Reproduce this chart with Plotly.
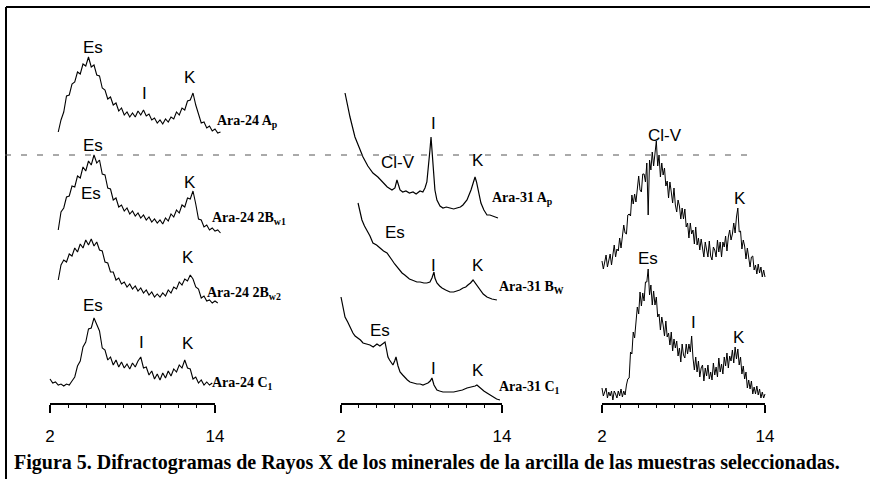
import plotly.graph_objects as go

W, H = 870, 479
STEP = 0.2   # 2-theta step of the digitised Ara-24 scans
STEP3 = 0.1  # 2-theta step of the digitised Ara-56 scans

# ---------------- Data (2θ in degrees, intensity in arbitrary units) ----------------
# Panel 1 : Ara-24
A24_AP_START = 2.6
A24_AP = [3, 15, 23, 39, 40, 51, 53, 63, 61, 71,
          69, 78, 68, 70, 60, 59, 47, 45, 36, 38,
          30, 32, 24, 27, 20, 23, 18, 22, 18, 24,
          20, 25, 19, 21, 15, 17, 12, 15, 11, 16,
          13, 18, 16, 23, 20, 27, 25, 34, 35, 42,
          30, 22, 12, 13, 7, 9, 4, 6, 2, 3]
A24_2BW1_START = 2.6
A24_2BW1 = [5, 23, 27, 38, 39, 49, 48, 59, 57, 68,
            64, 74, 70, 80, 72, 75, 61, 60, 47, 46,
            35, 37, 28, 30, 24, 27, 21, 24, 19, 22,
            17, 20, 15, 18, 13, 16, 12, 15, 11, 17,
            14, 21, 18, 25, 22, 30, 28, 37, 36, 44,
            31, 16, 15, 8, 10, 5, 7, 4, 5, 2]
A24_2BW2_START = 2.6
A24_2BW2 = [25, 40, 45, 43, 51, 49, 57, 53, 61, 57,
            65, 60, 66, 59, 63, 55, 54, 43, 42, 33,
            33, 25, 27, 21, 23, 18, 21, 16, 19, 14,
            17, 12, 15, 10, 13, 8, 11, 8, 12, 9,
            15, 12, 18, 16, 23, 20, 26, 24, 30, 26,
            18, 16, 7, 9, 4, 5, 2, 4, 2]
A24_C1_START = 2.0
A24_C1 = [9, 5, 6, 3, 4, 2, 4, 3, 7, 11,
          22, 27, 41, 46, 59, 60, 70, 63, 57, 40,
          38, 28, 31, 23, 28, 21, 26, 20, 24, 19,
          25, 21, 27, 31, 20, 21, 13, 17, 9, 14,
          8, 15, 10, 17, 12, 19, 16, 23, 20, 28,
          20, 19, 9, 11, 5, 8, 3, 6, 3, 5]

A31_AP_TT = [2.30, 2.67, 3.04, 3.35, 3.64, 4.0, 4.38, 4.75, 5.13, 5.45,
             5.80, 6.02, 6.17, 6.30, 6.40, 6.6, 6.84, 7.1, 7.37, 7.6,
             7.89, 8.1, 8.26, 8.40, 8.48, 8.63, 8.71, 8.78, 8.86, 9.0,
             9.15, 9.38, 9.60, 9.85, 10.12, 10.4, 10.64, 10.9, 11.09, 11.39,
             11.69, 11.85, 11.99, 12.1, 12.21, 12.43, 12.65, 12.88, 13.1, 13.33,
             13.70]
A31_AP = [127, 103, 83, 72, 63, 54, 47, 43, 37, 33,
          30, 32, 40, 33, 30, 28, 29, 27, 28, 26,
          29, 28, 32, 38, 47, 70, 83, 70, 47, 30,
          20, 14, 12, 13, 12, 11, 12, 13, 15, 20,
          30, 37, 43, 38, 30, 17, 10, 5, 5, 4,
          2]
A31_BW_TT = [3.27, 3.56, 3.75, 3.94, 4.16, 4.38, 4.65, 4.91, 5.17, 5.43,
             5.62, 5.80, 6.0, 6.17, 6.35, 6.55, 6.75, 6.92, 7.1, 7.29,
             7.48, 7.66, 7.9, 8.18, 8.4, 8.63, 8.78, 8.93, 9.0, 9.15,
             9.35, 9.53, 9.8, 10.12, 10.4, 10.64, 10.85, 11.09, 11.3, 11.46,
             11.65, 11.84, 12.06, 12.36, 12.6, 12.88, 13.25, 13.62]
A31_BW = [99, 82, 76, 72, 66, 59, 57, 54, 51, 49,
          46, 42, 38, 35, 32, 29, 27, 25, 23, 22,
          21, 20, 20, 19, 19, 20, 24, 30, 24, 19,
          16, 14, 12, 10, 10, 11, 12, 14, 15, 17,
          19, 22, 18, 12, 8, 5, 3, 2]
A31_C1_TT = [2.0, 2.30, 2.5, 2.67, 2.89, 3.05, 3.27, 3.45, 3.64, 3.9,
             4.16, 4.4, 4.68, 4.9, 5.13, 5.28, 5.40, 5.50, 5.62, 5.73,
             5.87, 6.0, 6.10, 6.25, 6.40, 6.6, 6.77, 6.95, 7.14, 7.4,
             7.66, 7.9, 8.11, 8.3, 8.48, 8.65, 8.78, 8.93, 9.15, 9.35,
             9.60, 9.85, 10.12, 10.4, 10.72, 11.05, 11.39, 11.76, 12.0, 12.13,
             12.3, 12.43, 12.65, 12.88, 13.1, 13.33, 13.6, 13.85]
A31_C1 = [105, 85, 80, 75, 69, 66, 64, 62, 59, 58,
          57, 55, 58, 56, 59, 60, 52, 45, 42, 40,
          37, 41, 45, 36, 30, 27, 24, 22, 20, 19,
          18, 18, 17, 18, 19, 21, 24, 17, 12, 11,
          10, 10, 10, 10, 11, 12, 14, 15, 16, 17,
          15, 13, 11, 9, 7, 5, 3, 2]

# Panel 3 : Ara-56 (very noisy scans, 0.1° step)
A56_AP_START = 2.0
A56_AP = [19, 11, 18, 25, 13, 20, 26, 15, 27, 35,
          23, 31, 29, 42, 32, 45, 55, 47, 46, 65,
          66, 64, 85, 76, 86, 78, 91, 104, 90, 88,
          106, 106, 98, 117, 65, 120, 110, 128, 114, 125,
          139, 114, 125, 103, 117, 105, 112, 94, 99, 82,
          98, 88, 77, 92, 75, 68, 80, 74, 61, 72,
          61, 71, 53, 57, 42, 57, 46, 50, 36, 53,
          35, 42, 30, 41, 32, 23, 38, 32, 23, 39,
          24, 20, 33, 30, 23, 40, 28, 38, 23, 38,
          33, 44, 29, 43, 50, 40, 46, 57, 47, 63,
          72, 48, 49, 31, 40, 34, 21, 32, 20, 13,
          23, 24, 10, 15, 6, 16, 7, 13, 3, 10, 3]
A56_BW_START = 2.0
A56_BW = [12, 4, 8, 12, 2, 8, 4, 9, 0, 9,
          6, 2, 9, 4, 11, 3, 9, 5, 15, 21,
          22, 48, 46, 68, 62, 81, 93, 86, 108, 94,
          107, 99, 118, 118, 131, 105, 115, 95, 109, 95,
          103, 83, 86, 70, 83, 75, 64, 79, 63, 67,
          55, 68, 49, 61, 52, 59, 44, 52, 38, 56,
          45, 42, 56, 46, 56, 48, 64, 42, 30, 43,
          28, 39, 23, 32, 35, 19, 32, 24, 35, 21,
          28, 20, 37, 25, 33, 23, 42, 28, 36, 26,
          43, 34, 47, 32, 44, 39, 50, 37, 53, 41,
          51, 35, 43, 26, 34, 21, 28, 12, 20, 11,
          19, 6, 13, 6, 14, 5, 11, 2, 8, 2, 6]

# Vertical stacking offsets of each scan (same units as intensity)
OFFSETS = {"A24_AP": 344, "A24_2BW1": 244, "A24_2BW2": 174, "A24_C1": 91,
           "A31_AP": 259, "A31_BW": 177, "A31_C1": 77,
           "A56_AP": 199, "A56_BW": 79}

X_TICKS = [2, 14]
X_TICK_TEXT = ["2", "14"]
CAPTION = ("Figura 5. Difractogramas de Rayos X de los minerales de la arcilla "
           "de las muestras seleccionadas.")

# ---------------- Layout geometry (pixels) ----------------
PANELS = {1: (50, 215), 2: (341, 502), 3: (602, 765)}
AXIS_Y_PX = 403

fig = go.Figure()


def grid(start, vals, step):
    return [round(start + step * i, 2) for i in range(len(vals))]


def add_curve(xs, vals, key, panel, width=1.1):
    off = OFFSETS[key]
    fig.add_trace(go.Scatter(x=xs, y=[off + v for v in vals], mode="lines",
                             line=dict(color="black", width=width),
                             xaxis="x%d" % (panel + 3), yaxis="y",
                             hoverinfo="skip", showlegend=False))


add_curve(grid(A24_AP_START, A24_AP, STEP), A24_AP, "A24_AP", 1)
add_curve(grid(A24_2BW1_START, A24_2BW1, STEP), A24_2BW1, "A24_2BW1", 1)
add_curve(grid(A24_2BW2_START, A24_2BW2, STEP), A24_2BW2, "A24_2BW2", 1)
add_curve(grid(A24_C1_START, A24_C1, STEP), A24_C1, "A24_C1", 1)
add_curve(A31_AP_TT, A31_AP, "A31_AP", 2, 1.2)
add_curve(A31_BW_TT, A31_BW, "A31_BW", 2, 1.2)
add_curve(A31_C1_TT, A31_C1, "A31_C1", 2, 1.2)
add_curve(grid(A56_AP_START, A56_AP, STEP3), A56_AP, "A56_AP", 3, 1.0)
add_curve(grid(A56_BW_START, A56_BW, STEP3), A56_BW, "A56_BW", 3, 1.0)

# invisible anchors so that the visible 2θ axes are drawn
for p in (1, 2, 3):
    fig.add_trace(go.Scatter(x=X_TICKS, y=[0.5, 0.5], mode="markers",
                             marker=dict(opacity=0),
                             xaxis="x" if p == 1 else "x%d" % p,
                             yaxis="y2", hoverinfo="skip", showlegend=False))

layout = dict(
    width=W, height=H, margin=dict(l=0, r=0, t=0, b=0, pad=0), autosize=False,
    paper_bgcolor="white", plot_bgcolor="rgba(0,0,0,0)", showlegend=False,
    yaxis=dict(domain=[0, 1], range=[0, H], visible=False, fixedrange=True,
               automargin=False),
    yaxis2=dict(domain=[1 - AXIS_Y_PX / H, 1], range=[0, 1], visible=False,
                automargin=False),
)
for p, (l, r) in PANELS.items():
    ppu = (r - l) / 12.0
    name = "xaxis" if p == 1 else "xaxis%d" % p
    layout[name] = dict(
        domain=[l / W, r / W], range=[2, 14], anchor="y2", automargin=False,
        showline=True, linecolor="black", linewidth=1.5,
        ticks="outside", ticklen=8, tickwidth=1.5, tickcolor="black",
        tickvals=X_TICKS, ticktext=X_TICK_TEXT, ticklabelstandoff=9,
        tickfont=dict(family="Liberation Sans", size=17, color="black"),
        showgrid=False, zeroline=False,
        minor=dict(ticks="outside", ticklen=3, tickwidth=1, tickcolor="black",
                   tickmode="linear", tick0=2, dtick=12 / 9, showgrid=False),
    )
    layout["xaxis%d" % (p + 3)] = dict(
        domain=[(l - ppu) / W, (r + ppu) / W], range=[1, 15], anchor="y",
        visible=False, automargin=False)
fig.update_layout(**layout)

# peak labels  (text, panel, 2θ, height)
PEAK_LABELS = [
    ("Es", 1, 5.13, 432), ("I", 1, 8.84, 386), ("K", 1, 12.18, 402),
    ("Es", 1, 5.13, 334), ("K", 1, 12.18, 297),
    ("Es", 1, 4.98, 286), ("K", 1, 12.04, 222),
    ("Es", 1, 5.13, 174), ("I", 1, 8.69, 137), ("K", 1, 12.04, 136),
    ("Cl-V", 2, 6.25, 317), ("I", 2, 8.86, 356), ("K", 2, 12.21, 319),
    ("Es", 2, 6.02, 247), ("I", 2, 8.86, 214), ("K", 2, 12.21, 214),
    ("Es", 2, 4.91, 149), ("I", 2, 8.86, 111), ("K", 2, 12.21, 109),
    ("Cl-V", 3, 6.64, 344), ("K", 3, 12.16, 281),
    ("Es", 3, 5.39, 221), ("I", 3, 8.70, 157), ("K", 3, 12.09, 142),
]
for txt, p, xv, yv in PEAK_LABELS:
    fig.add_annotation(text=txt, x=xv, y=yv, xref="x" if p == 1 else "x%d" % p,
                       yref="y", showarrow=False,
                       font=dict(family="Liberation Sans", size=17, color="black"))

SAMPLE_LABELS = [
    ("Ara-24 A<sub>p</sub>", 1, 14.0, 358),
    ("Ara-24 2B<sub>w1</sub>", 1, 13.64, 261),
    ("Ara-24 2B<sub>w2</sub>", 1, 13.27, 186),
    ("Ara-24 C<sub>1</sub>", 1, 13.64, 96),
    ("Ara-31 A<sub>p</sub>", 2, 13.10, 281),
    ("Ara-31 B<sub>W</sub>", 2, 13.62, 192),
    ("Ara-31 C<sub>1</sub>", 2, 13.62, 92),
    ("Ara-56 A<sub>p</sub>", 3, 15.33, 202),
    ("Ara-56 B<sub>w</sub>", 3, 15.33, 87),
]
for txt, p, xv, yv in SAMPLE_LABELS:
    fig.add_annotation(text="<b>%s</b>" % txt, x=xv, y=yv,
                       xref="x" if p == 1 else "x%d" % p, yref="y",
                       xanchor="left", showarrow=False,
                       font=dict(family="Liberation Serif", size=14, color="black"))

fig.add_annotation(text="<b>%s</b>" % CAPTION, x=12 / W, y=1 - 462 / H,
                   xref="paper", yref="paper", xanchor="left", yanchor="middle",
                   showarrow=False,
                   font=dict(family="Liberation Serif", size=20, color="black"))

# figure frame and the faint dashed scan line
fig.add_shape(type="line", xref="paper", yref="paper", x0=6 / W, x1=6 / W,
              y0=0, y1=1 - 7 / H, line=dict(color="black", width=2))
fig.add_shape(type="line", xref="paper", yref="paper", x0=6 / W, x1=1,
              y0=1 - 7 / H, y1=1 - 7 / H, line=dict(color="black", width=2))
fig.add_shape(type="line", xref="paper", yref="paper", x0=5 / W, x1=752 / W,
              y0=1 - 155 / H, y1=1 - 155 / H,
              line=dict(color="#555", width=1, dash="6px,10px"))

fig.write_html("out.html",
               config={"responsive": False, "displayModeBar": False},
               post_script="document.documentElement.style.margin='0px';"
                           "document.documentElement.style.overflow='hidden';"
                           "document.body.style.margin='0px';"
                           "document.body.style.padding='0px';"
                           "document.body.style.overflow='hidden';")
